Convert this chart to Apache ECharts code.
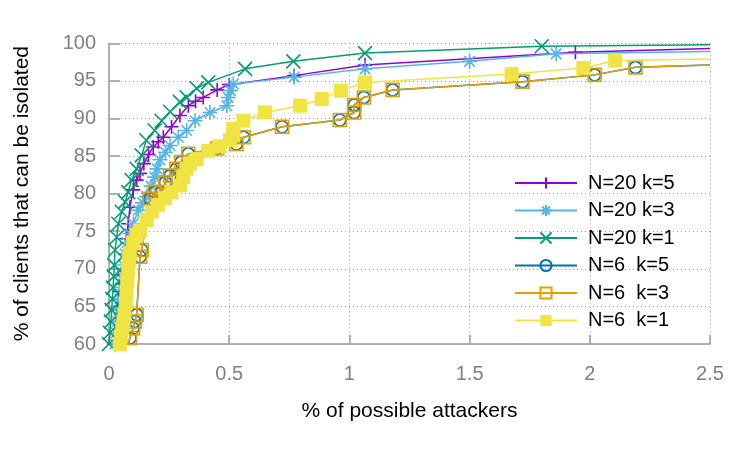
<!DOCTYPE html>
<html lang="en">
<head>
<meta charset="utf-8">
<script src="https://cdn.jsdelivr.net/npm/echarts@6/dist/echarts.min.js"></script>
<style>
    html, body { margin: 0; padding: 0; background: #fff; }
    #main { width: 747px; height: 449px; }
</style>
</head>
<body>
<div id="main"></div>
<script type="text/javascript">
    // legend names, in gnuplot plotting order
    var names = ['N=20 k=5', 'N=20 k=3', 'N=20 k=1', 'N=6  k=5', 'N=6  k=3', 'N=6  k=1'];

    // [% of possible attackers, % of clients that can be isolated]
    // the last point of each series sits on the right edge, where the curve runs off the plot
    var n20k5 = [[0.02,60],[0.025,61.5],[0.03,63],[0.035,64.5],[0.04,66],[0.045,67],[0.053,68],[0.055,69.2],
        [0.06,70],[0.065,72],[0.072,74],[0.08,76],[0.087,78.2],[0.101,80.5],[0.115,81.8],[0.129,82.7],
        [0.145,84],[0.165,85.2],[0.184,86.2],[0.205,86.9],[0.226,87.5],[0.26,88.9],[0.295,90.4],[0.33,91.7],
        [0.36,92.3],[0.392,92.8],[0.45,93.8],[0.5,94.5],[0.77,95.7],[1.065,97.1],[1.94,98.8],[2.5,99.3]];
    var n20k3 = [[0.025,60],[0.03,61.5],[0.035,63],[0.04,64.5],[0.045,66],[0.05,67.5],[0.055,69],[0.06,70.5],
        [0.067,72],[0.075,73.5],[0.087,74.7],[0.101,76],[0.122,77.8],[0.14,78.8],[0.157,79.6],[0.175,81],
        [0.19,82.2],[0.2,83.3],[0.212,84.5],[0.235,85.5],[0.254,86.4],[0.288,87.5],[0.323,88.4],[0.358,89.7],
        [0.42,90.8],[0.49,91.7],[0.496,92.8],[0.505,93.7],[0.517,94.6],[0.77,95.5],[1.065,96.6],[1.5,97.6],
        [1.86,98.6],[2.5,98.9]];
    var n20k1 = [[0,60],[0.004,61.5],[0.008,63],[0.011,64.5],[0.014,66],[0.017,67.5],[0.02,69],[0.022,70.5],
        [0.025,72.5],[0.032,74.2],[0.039,76],[0.053,77.6],[0.067,78.9],[0.08,80.2],[0.094,81.8],[0.115,83.3],
        [0.136,85.1],[0.155,87.1],[0.19,88.4],[0.219,89.7],[0.254,90.9],[0.295,92.2],[0.323,92.8],[0.365,94],
        [0.413,94.8],[0.566,96.6],[0.767,97.6],[1.065,98.7],[1.8,99.6],[2.5,99.8]];
    var n6k5 = [[0.08,59.9],[0.087,60.8],[0.1,62.1],[0.108,63],[0.115,63.9],[0.129,71.6],[0.136,72.5],
        [0.17,79.3],[0.19,80.2],[0.219,80.2],[0.235,81.5],[0.254,82.4],[0.28,83.3],[0.3,84.2],[0.33,85.3],
        [0.45,86],[0.53,86.6],[0.56,87.5],[0.72,88.9],[0.96,89.8],[1.02,90.8],[1.02,91.8],[1.06,92.8],
        [1.18,93.8],[1.72,94.9],[2.02,95.8],[2.19,96.8],[2.5,97.1]];
    var n6k3 = [[0.08,59.9],[0.087,60.8],[0.1,62.1],[0.108,63],[0.115,63.9],[0.129,71.6],[0.136,72.5],
        [0.17,79.3],[0.19,80.2],[0.219,80.2],[0.235,81.5],[0.254,82.4],[0.28,83.3],[0.3,84.2],[0.33,85.3],
        [0.45,86],[0.53,86.6],[0.56,87.5],[0.72,88.9],[0.96,89.8],[1.02,90.8],[1.02,91.8],[1.06,92.8],
        [1.18,93.8],[1.72,94.9],[2.02,95.8],[2.19,96.8],[2.5,97.1]];
    var n6k1 = [[0.045,60],[0.05,61],[0.055,62],[0.06,63],[0.065,64],[0.07,65.5],[0.073,67],[0.076,68.5],
        [0.08,70],[0.084,71.2],[0.087,72.1],[0.1,73.5],[0.115,74.5],[0.129,75.1],[0.157,76.5],[0.178,77.6],
        [0.205,78.5],[0.233,79.4],[0.26,80.2],[0.295,81.1],[0.309,82.2],[0.323,83.3],[0.337,84],[0.365,84.6],
        [0.413,85.7],[0.46,86.3],[0.503,87.1],[0.517,87.8],[0.517,88.6],[0.559,89.7],[0.649,90.8],[0.795,91.7],
        [0.885,92.6],[0.965,93.7],[1.065,94.8],[1.675,95.9],[1.973,96.7],[2.105,97.7],[2.5,97.9]];

    var xTicks = ['0', '0.5', '1', '1.5', '2', '2.5'];

    var colors = ['#9400d3', '#56b4e9', '#009e73', '#0072b2', '#e69f00', '#f0e442'];
    var symbols = [
        'path://M0,5L10,5M5,0L5,10',
        'path://M0,5L10,5M5,0L5,10M1.5,1.5L8.5,8.5M8.5,1.5L1.5,8.5',
        'path://M0,0L10,10M10,0L0,10',
        'path://M10,5A5,5 0 1,1 0,5A5,5 0 1,1 10,5Z',
        'path://M0,0L10,0L10,10L0,10Z',
        'rect'
    ];
    var sizes = [14, 15, 14, 12, 13, 14];
    var datas = [n20k5, n20k3, n20k1, n6k5, n6k3, n6k1];

    var series = [];
    for (var i = 0; i < names.length; i++) {
        var filled = (i == 5);
        var pts = datas[i].map(function (p, j, arr) {
            // no marker where the curve leaves the plot on the right
            if (j == arr.length - 1) return {value: p, symbol: 'none'};
            return p;
        });
        series.push({
            name: names[i],
            type: 'line',
            data: pts,
            symbol: symbols[i],
            symbolSize: sizes[i],
            showAllSymbol: true,
            lineStyle: {color: colors[i], width: 1.5},
            itemStyle: {
                color: filled ? colors[i] : 'rgba(0,0,0,0)',
                borderColor: colors[i],
                borderWidth: filled ? 0 : 1.6
            },
            emphasis: {disabled: true},
            z: 2 + i
        });
    }

    var chart = echarts.init(document.getElementById('main'));
    var gray = '#9a9a9a';
    var font = 'Liberation Sans';

    chart.setOption({
        animation: false,
        backgroundColor: '#fff',
        textStyle: {fontFamily: font},
        grid: {left: 109, right: 37, top: 43.3, bottom: 105},
        legend: {
            data: names,
            orient: 'vertical',
            left: 514,
            top: 173,
            padding: 0,
            itemWidth: 62,
            itemHeight: 14,
            itemGap: 7.5,
            textStyle: {fontFamily: font, fontSize: 20, color: '#000', padding: [0, 0, 0, 6], lineHeight: 20}
        },
        xAxis: {
            type: 'value',
            min: 0, max: 2.5, interval: 0.5,
            name: '% of possible attackers',
            nameLocation: 'middle',
            nameGap: 57,
            nameTextStyle: {fontFamily: font, fontSize: 21, color: '#000'},
            axisLine: {lineStyle: {color: gray, width: 1.5}},
            axisTick: {inside: true, length: 9, lineStyle: {color: gray, width: 1.5}},
            axisLabel: {
                fontFamily: font, fontSize: 20, color: '#808080', margin: 20,
                formatter: function (v) { return xTicks[Math.round(v / 0.5)]; }
            },
            splitLine: {show: true, lineStyle: {color: '#a0a0a0', width: 1, type: [1, 3]}}
        },
        yAxis: {
            type: 'value',
            min: 60, max: 100, interval: 5,
            name: '% of clients that can be isolated',
            nameLocation: 'middle',
            nameGap: 76,
            nameRotate: 90,
            nameTextStyle: {fontFamily: font, fontSize: 21, color: '#000'},
            axisLine: {show: true, lineStyle: {color: gray, width: 1.5}},
            axisTick: {show: true, inside: true, length: 11, lineStyle: {color: gray, width: 1.5}},
            axisLabel: {fontFamily: font, fontSize: 20, color: '#808080', margin: 13},
            splitLine: {show: true, lineStyle: {color: '#a0a0a0', width: 1, type: [1, 3]}}
        },
        series: series
    });
</script>
</body>
</html>
